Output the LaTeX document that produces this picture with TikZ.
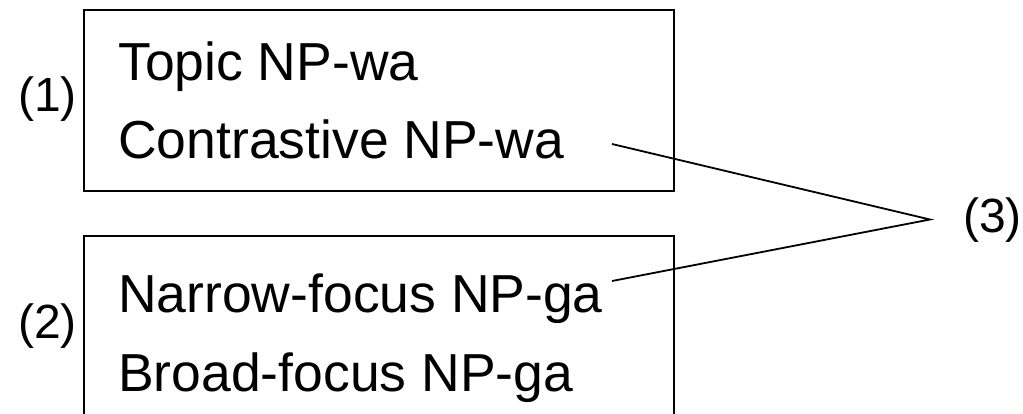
\documentclass[tikz,border=0pt]{standalone}
\usepackage{fontspec}
\setmainfont{Liberation Sans}
\begin{document}
\begin{tikzpicture}[x=1pt,y=-1pt,
  frame/.style={draw=black,line width=1.8pt,rectangle,inner sep=0pt},
  item/.style={anchor=base west,inner sep=0pt,font=\fontsize{53.5}{60}\selectfont},
  num/.style={anchor=west,inner sep=0pt,font=\fontsize{48}{54}\selectfont},
  link/.style={draw=black,line width=1.8pt}]
\clip (0,0) rectangle (1023,413);
\fill[white] (0,0) rectangle (1023,413);
% boxes
\node[frame,minimum width=590pt,minimum height=181pt,anchor=north west] (box1) at (82.7,9) {};
\node[frame,minimum width=590pt,minimum height=220pt,anchor=north west] (box2) at (82.7,235) {};
% texts
\node[item] (t1) at (118,80) {Topic NP-wa};
\node[item] (t2) at (118,158) {Contrastive NP-wa};
\node[item] (t3) at (118,312) {Narrow-focus NP-ga};
\node[item] (t4) at (118,391) {Broad-focus NP-ga};
\node[num] (n1) at (18,99.5) {(1)};
\node[num] (n2) at (18,326.5) {(2)};
\node[num] (n3) at (963,220) {(3)};
% connector
\coordinate (c1) at (612,144);
\coordinate (c2) at (612,281);
\coordinate (v) at (930,219.5);
\draw[link] (c1) -- (v) -- (c2);
\end{tikzpicture}
\end{document}
